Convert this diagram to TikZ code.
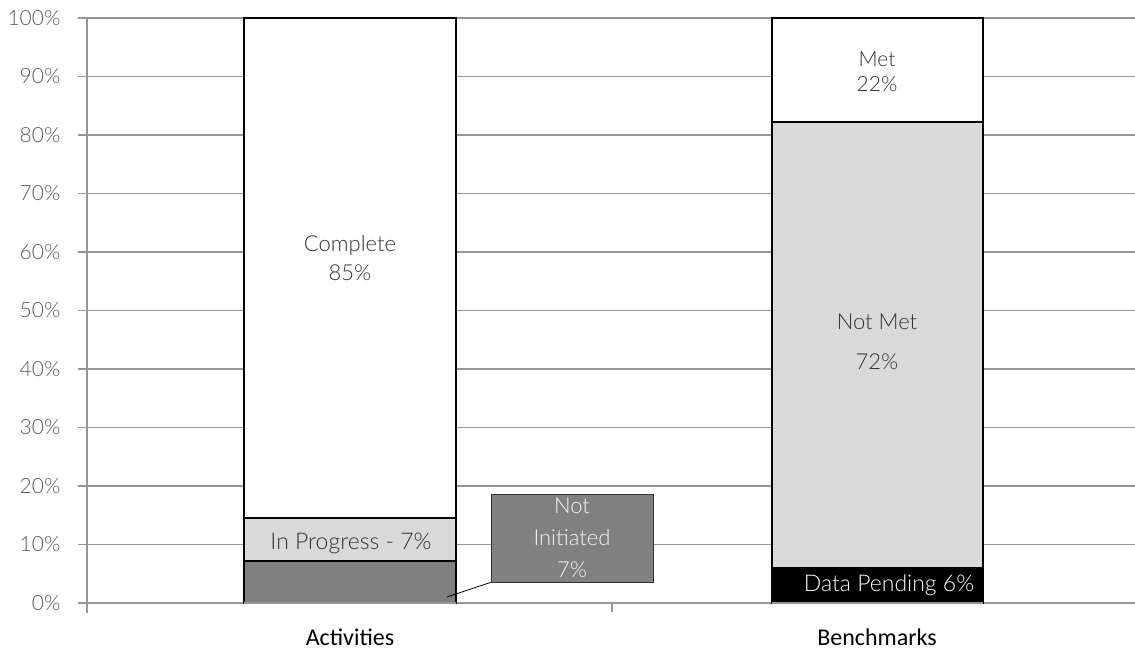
\documentclass[tikz,border=0pt]{standalone}
\usepackage{fontspec}
\setmainfont{Carlito}
\newfontfamily\thinfont{Lato Light}
\usetikzlibrary{positioning}
\definecolor{gridgray}{RGB}{150,150,150}
\definecolor{ticktext}{RGB}{89,89,89}
\definecolor{labeltext}{RGB}{50,50,50}
\definecolor{progressgray}{RGB}{217,217,217}
\definecolor{initgray}{RGB}{128,128,128}
\tikzset{
  gridline/.style={draw=gridgray, line width=1.5pt},
  barseg/.style={draw=black, line width=1.5pt},
  pctlabel/.style={font=\thinfont\fontsize{21}{22}\selectfont, text=ticktext, anchor=east},
  seglabel/.style={font=\thinfont\fontsize{22}{24}\selectfont, text=labeltext, align=center},
  catlabel/.style={font=\fontsize{24}{26}\selectfont}
}
\begin{document}
\begin{tikzpicture}[x=1pt,y=1pt]
    \useasboundingbox (0,0) rectangle (1135,649);
    % grid, y = 46 + 5.85*percent
    \foreach \p in {0,10,...,100}{
        \draw[gridline] (78,{46+5.85*\p}) -- (1135,{46+5.85*\p});
        \node[pctlabel] (tick\p) at (64,{46+5.85*\p}) {\p\%};
    }
    \draw[gridline] (87,631) -- (87,36);
    \draw[gridline] (612,46) -- (612,37);
    % activities bar
    \filldraw[barseg, fill=initgray] (244,46) rectangle (456,88);
    \filldraw[barseg, fill=progressgray] (244,88) rectangle (456,131);
    \filldraw[barseg, fill=white] (244,131) rectangle (456,631);
    \draw[gridgray, line width=1.5pt] (244,46) -- (456,46);
    % benchmarks bar
    \filldraw[barseg, fill=black] (772,46) rectangle (983,81);
    \filldraw[barseg, fill=progressgray] (772,81) rectangle (983,527);
    \filldraw[barseg, fill=white] (772,527) rectangle (983,631);
    \draw[gridgray, line width=1.5pt] (772,46) -- (983,46);
    % segment labels
    \node[seglabel, font=\thinfont\fontsize{22}{29}\selectfont] (complete) at (350,391) {Complete\\85\%};
    \node[seglabel, font=\thinfont\fontsize{23}{24}\selectfont] (progress) at (351,106) {In Progress - 7\%};
    \node[seglabel, draw=labeltext, line width=0.8pt, fill=initgray,
          text=white!92!gray, minimum width=162, minimum height=88,
          inner sep=0pt, font=\thinfont\fontsize{22}{32}\selectfont] (notinit) at (572,111) {Not\\Initiated\\7\%};
    \coordinate (initpt) at (447,52);
    \draw[black, line width=0.8pt] (notinit.south west) -- (initpt);
    \node[seglabel, font=\thinfont\fontsize{21}{25}\selectfont] (met) at (877,577) {Met\\22\%};
    \node[seglabel, font=\thinfont\fontsize{22}{40}\selectfont] (notmet) at (877,307) {Not Met\\72\%};
    \node[seglabel, text=white, font=\thinfont\fontsize{23}{24}\selectfont] (pending) at (889,64) {Data Pending 6\%};
    % categories
    \node[catlabel] (activities) at (350,12) {Activities};
    \node[catlabel] (benchmarks) at (877,12) {Benchmarks};
\end{tikzpicture}
\end{document}
